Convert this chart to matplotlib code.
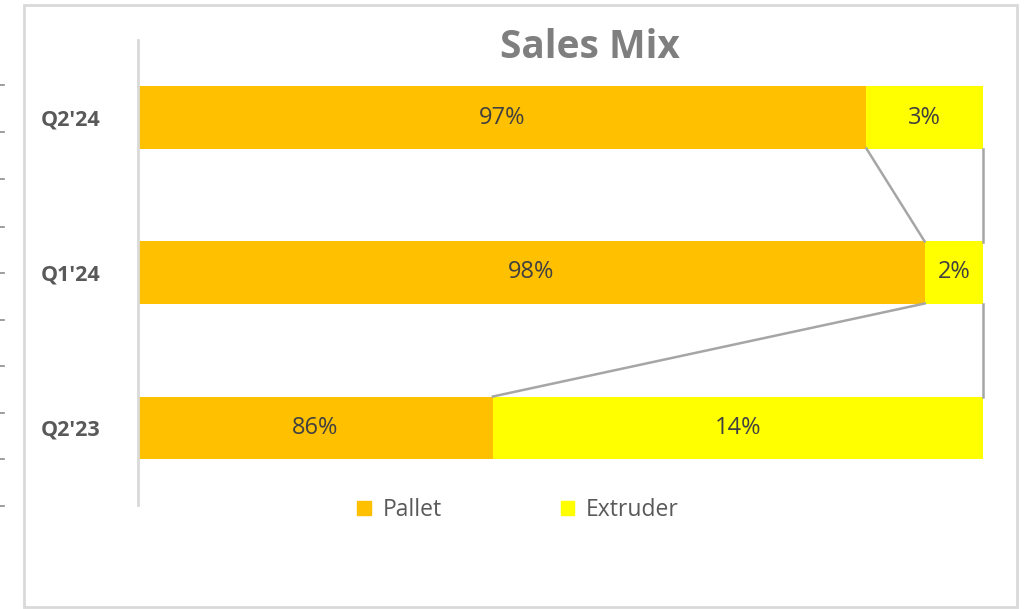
import matplotlib.pyplot as plt
from matplotlib.patches import Patch, Rectangle
from matplotlib.lines import Line2D

# data (bottom to top)
categories = ["Q2'23", "Q1'24", "Q2'24"]
pallet = [0.42, 0.931, 0.862]          # drawn share of bar
extruder = [0.58, 0.069, 0.138]
pallet_labels = ["86%", "98%", "97%"]
extruder_labels = ["14%", "2%", "3%"]

c_pallet = '#FFC000'
c_extruder = '#FFFF00'

fig = plt.figure(figsize=(10.25, 6.09), dpi=100)
fig.patch.set_facecolor('white')

# outer chart border
fig.add_artist(Rectangle((24 / 1025, 2 / 609), 993 / 1025, 602 / 609, transform=fig.transFigure,
                         fill=False, edgecolor='#D9D9D9', lw=2))
# little dashes at the far left edge
for yp in [85, 132, 179, 227, 273, 320, 366, 413, 459, 506]:
    fig.add_artist(Line2D([0, 4 / 1025], [1 - yp / 609] * 2, transform=fig.transFigure,
                          color='#8C8C8C', lw=1.2))

ax = fig.add_axes([138 / 1025, 1 - 505 / 609, 845 / 1025, 465 / 609])
y = list(range(len(categories)))
h = 0.4
ax.barh(y, pallet, height=h, color=c_pallet, label='Pallet')
ax.barh(y, extruder, left=pallet, height=h, color=c_extruder, label='Extruder')

# series lines
for i in range(len(categories) - 1):
    ax.plot([pallet[i], pallet[i + 1]], [i + h / 2, i + 1 - h / 2], color='#A6A6A6', lw=1.8)
    ax.plot([1, 1], [i + h / 2, i + 1 - h / 2], color='#A6A6A6', lw=1.8, clip_on=False)

for i in y:
    ax.text(pallet[i] / 2, i, pallet_labels[i], ha='center', va='center',
            fontsize=17, color='#404040', family='Open Sans')
    ax.text(pallet[i] + extruder[i] / 2, i, extruder_labels[i], ha='center', va='center',
            fontsize=17, color='#404040', family='Open Sans')

for s in ['top', 'right', 'bottom']:
    ax.spines[s].set_visible(False)
ax.spines['left'].set_color('#D9D9D9')
ax.spines['left'].set_linewidth(2)

ax.set_xlim(0, 1)
ax.set_ylim(-0.5, 2.5)
ax.set_xticks([])
ax.set_yticks(y)
ax.set_yticklabels(categories, fontsize=15.5, fontweight='bold', color='#595959', family='Open Sans')
ax.tick_params(axis='y', length=0, pad=27)

fig.text(590 / 1025, 1 - 47 / 609, 'Sales Mix', ha='center', va='center', fontsize=28,
         fontweight='bold', color='#7F7F7F', family='Open Sans')

handles = [Patch(color=c_pallet), Patch(color=c_extruder)]
fig.legend(handles, ['Pallet', 'Extruder'], loc='center', bbox_to_anchor=(518 / 1025, 1 - 510 / 609),
           ncol=2, frameon=False, handlelength=0.6, handleheight=0.6, handletextpad=0.5,
           columnspacing=5.2, prop={'family': 'Open Sans', 'size': 16.5}, labelcolor='#595959')

fig.savefig('out.png', dpi=100)
